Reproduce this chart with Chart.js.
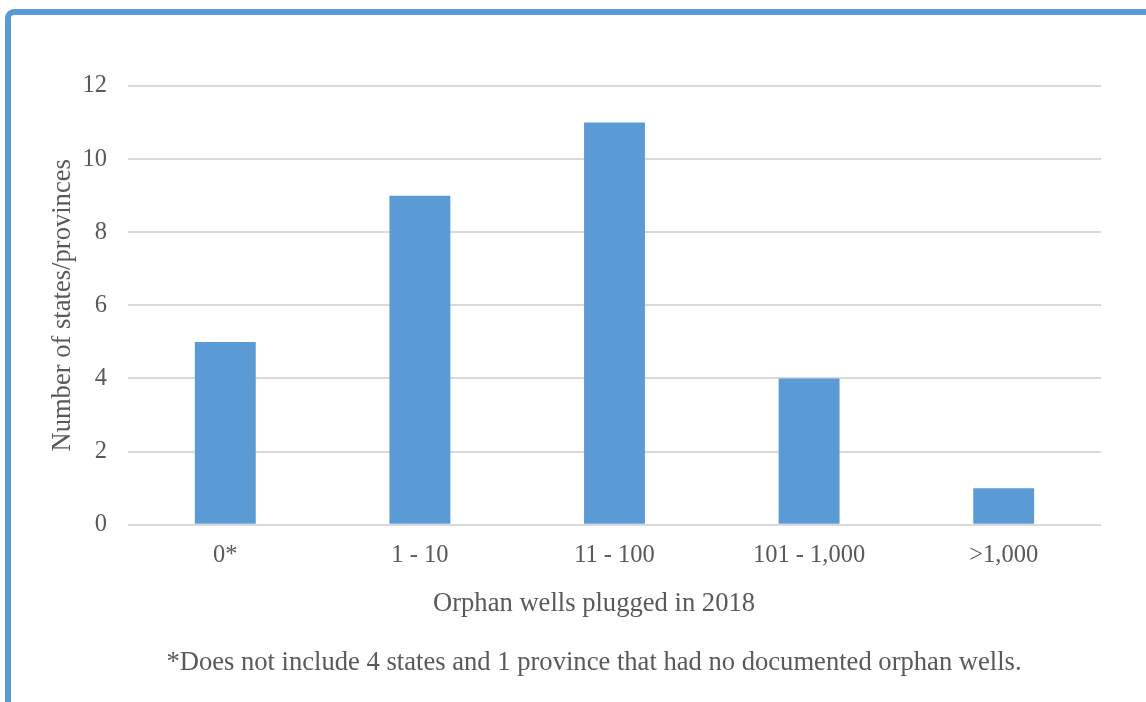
<!DOCTYPE html>
<html>
<head>
<meta charset="utf-8">
<script src="https://cdn.jsdelivr.net/npm/chart.js@4.4.1/dist/chart.umd.min.js"></script>
<style>
  html, body { margin: 0; padding: 0; background: #ffffff; overflow: hidden; width: 1146px; height: 702px; }
  #frame { position: absolute; left: 5px; top: 9px; width: 1400px; height: 900px; border: 6px solid #5B9BD5; border-radius: 9px; box-sizing: border-box; z-index: 0; }
  #wrap { position: absolute; left: 0; top: 0; width: 1188px; height: 702px; z-index: 1; }
</style>
</head>
<body>
<div id="frame"></div>
<div id="wrap"><canvas id="c"></canvas></div>
<script>
const categories = ["0*", "1 - 10", "11 - 100", "101 - 1,000", ">1,000"];
const stateCounts = [5, 9, 11, 4, 1];
const yTicks = [0, 2, 4, 6, 8, 10, 12];
const xAxisTitle = "Orphan wells plugged in 2018";
const yAxisTitle = "Number of states/provinces";
const footnote = "*Does not include 4 states and 1 province that had no documented orphan wells.";

const textColor = "#595959";
const fontFamily = "'Liberation Serif', 'Times New Roman', serif";

const bottomTexts = {
  id: "bottomTexts",
  afterDraw(chart) {
    const ctx = chart.ctx;
    const cx = chart.width / 2;
    const b = chart.chartArea.bottom;
    ctx.save();
    ctx.fillStyle = textColor;
    ctx.textAlign = "center";
    ctx.textBaseline = "middle";
    ctx.font = "26.6px " + fontFamily;
    ctx.fillText(xAxisTitle, cx, b + 79);
    ctx.fillText(footnote, cx, b + 138.5);
    ctx.restore();
  }
};

new Chart(document.getElementById("c"), {
  type: "bar",
  data: {
    labels: categories,
    datasets: [{
      data: stateCounts,
      backgroundColor: "#5B9BD5",
      borderWidth: 0,
      categoryPercentage: 1.0,
      barPercentage: 0.313
    }]
  },
  options: {
    responsive: true,
    maintainAspectRatio: false,
    animation: false,
    devicePixelRatio: 1,
    layout: { padding: { left: 47.4, right: 87, top: 86, bottom: 134.9 } },
    plugins: {
      legend: { display: false },
      tooltip: { enabled: false },
      title: { display: false }
    },
    scales: {
      x: {
        afterFit: (scale) => { scale.height = 42.4; },
        grid: { display: false, drawTicks: false },
        border: { display: false },
        ticks: {
          color: textColor,
          padding: 16,
          font: { family: fontFamily, size: 24.5 },
          maxRotation: 0
        }
      },
      y: {
        min: 0,
        max: 12,
        afterBuildTicks: (axis) => { axis.ticks = yTicks.map(v => ({ value: v })); },
        afterFit: (scale) => { scale.width = 80.6; },
        grid: { color: "#d9d9d9", lineWidth: 2, drawTicks: false },
        border: { display: false },
        ticks: {
          color: textColor,
          padding: 21,
          font: { family: fontFamily, size: 24.5 }
        },
        title: {
          display: true,
          text: yAxisTitle,
          color: textColor,
          font: { family: fontFamily, size: 26.6 },
          padding: { top: 0, bottom: 0 }
        }
      }
    }
  },
  plugins: [bottomTexts]
});
</script>
</body>
</html>
